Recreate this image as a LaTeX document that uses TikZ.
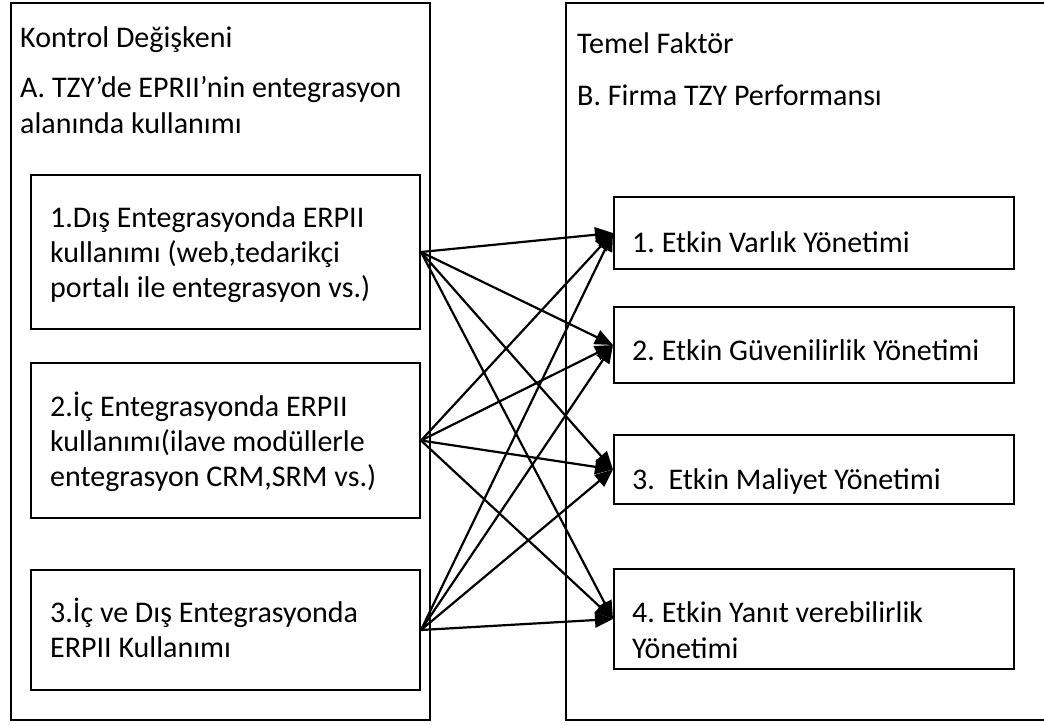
\documentclass[tikz,border=0pt]{standalone}
\usepackage{fontspec}
\setmainfont{Carlito}
\usetikzlibrary{arrows.meta}
\frenchspacing
\begin{document}
\begin{tikzpicture}[x=1pt,y=-1pt,
  frame/.style={draw, line width=2pt, rectangle, inner sep=0pt, anchor=north west},
  lbl/.style={anchor=base west, inner sep=0pt, font=\fontsize{30}{36}\selectfont},
  link/.style={line width=2.2pt, -{Triangle[length=18pt,width=15pt]}}]
\path[use as bounding box] (0,0) rectangle (1044,724);
\clip (0,0) rectangle (1044,724);

% outer panels
\node[frame, minimum width=419pt, minimum height=717pt] (ctrl) at (10,2) {};
\node[frame, minimum width=490pt, minimum height=717pt] (core) at (565,2) {};

% panel headings
\node[lbl] (h1) at (20,47) {Kontrol Değişkeni};
\node[lbl] (h2) at (20,97) {A. TZY’de EPRII’nin entegrasyon};
\node[lbl] (h3) at (20,133) {alanında kullanımı};
\node[lbl] (h4) at (577,53) {Temel Faktör};
\node[lbl] (h5) at (577,105) {B. Firma TZY Performansı};

% left boxes
\node[frame, minimum width=389pt, minimum height=154pt] (b1) at (30,174) {};
\node[frame, minimum width=389pt, minimum height=155pt] (b2) at (30,362) {};
\node[frame, minimum width=389pt, minimum height=120pt] (b3) at (30,569) {};

\node[lbl] (b1a) at (50,227) {1.Dış Entegrasyonda ERPII};
\node[lbl] (b1b) at (50,262) {kullanımı (web,tedarikçi};
\node[lbl] (b1c) at (50,297) {portalı ile entegrasyon vs.)};

\node[lbl] (b2a) at (50,416) {2.İç Entegrasyonda ERPII};
\node[lbl] (b2b) at (50,451) {kullanımı(ilave modüllerle};
\node[lbl] (b2c) at (50,486) {entegrasyon CRM,SRM vs.)};

\node[lbl] (b3a) at (50,622) {3.İç ve Dış Entegrasyonda};
\node[lbl] (b3b) at (50,657) {ERPII Kullanımı};

% right boxes
\node[frame, minimum width=400pt, minimum height=72pt] (r1) at (613,196) {};
\node[frame, minimum width=400pt, minimum height=76pt] (r2) at (613,306) {};
\node[frame, minimum width=400pt, minimum height=69pt] (r3) at (613,434) {};
\node[frame, minimum width=400pt, minimum height=100pt] (r4) at (613,568) {};

\node[lbl] (r1a) at (632,252) {1. Etkin Varlık Yönetimi};
\node[lbl] (r2a) at (632,360) {2. Etkin Güvenilirlik Yönetimi};
\node[lbl] (r3a) at (632,489) {3.\ \ Etkin Maliyet Yönetimi};
\node[lbl] (r4a) at (632,622) {4. Etkin Yanıt verebilirlik};
\node[lbl] (r4b) at (632,658) {Yönetimi};

% every control variable links to every performance factor
\foreach \s in {b1,b2,b3}
  \foreach \t in {r1,r2,r3,r4}
    \draw[link] (\s.east) -- (\t.west);
\end{tikzpicture}
\end{document}
